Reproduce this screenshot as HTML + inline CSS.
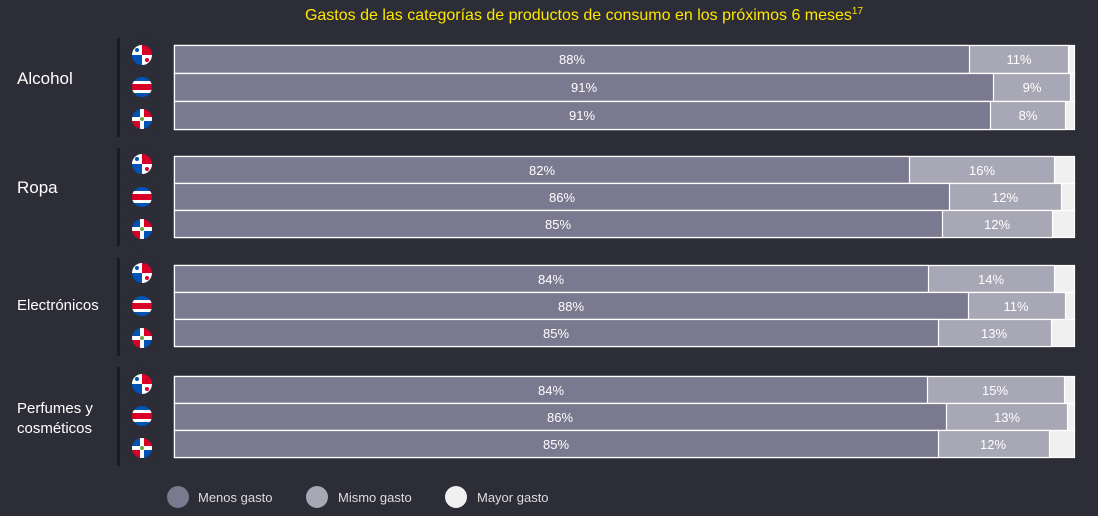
<!DOCTYPE html>
<html><head><meta charset="utf-8"><style>
body{margin:0;background:#2d2d37;}
svg{display:block;font-family:"Liberation Sans",sans-serif;}
</style></head><body>
<svg width="1098" height="516" viewBox="0 0 1098 516">
<rect width="1098" height="516" fill="#2d2d37"/>
<text x="584" y="20" text-anchor="middle" fill="#ffe600" font-size="16">Gastos de las categorías de productos de consumo en los próximos 6 meses<tspan font-size="10" dy="-6">17</tspan></text>
<g fill="#1b1b22">
<rect x="117" y="38" width="3" height="99"/>
<rect x="117" y="148" width="3" height="98"/>
<rect x="117" y="258" width="3" height="98"/>
<rect x="117" y="367" width="3" height="99"/>
</g>
<g fill="#ffffff" font-size="17">
<text x="17" y="84">Alcohol</text>
<text x="17" y="193">Ropa</text>
<text x="17" y="310" font-size="15">Electrónicos</text>
<text x="17" y="413" font-size="15">Perfumes y</text>
<text x="17" y="433" font-size="15">cosméticos</text>
</g>
<defs>
<g id="pa"><rect x="-10" y="-10" width="20" height="20" fill="#fff"/><rect x="0" y="-10" width="10" height="10" fill="#d80027"/><rect x="-10" y="0" width="10" height="10" fill="#0052b4"/><circle cx="-5" cy="-5" r="2" fill="#0052b4"/><circle cx="5" cy="5" r="2" fill="#d80027"/><circle r="14" fill="none" stroke="#2d2d37" stroke-width="8"/></g>
<g id="cr"><rect x="-10" y="-10" width="20" height="20" fill="#0052b4"/><rect x="-10" y="-6" width="20" height="12" fill="#fff"/><rect x="-10" y="-3" width="20" height="6" fill="#d80027"/><circle r="14" fill="none" stroke="#2d2d37" stroke-width="8"/></g>
<g id="do"><rect x="-10" y="-10" width="20" height="20" fill="#fff"/><rect x="-10" y="-10" width="8" height="8" fill="#0052b4"/><rect x="2" y="2" width="8" height="8" fill="#0052b4"/><rect x="2" y="-10" width="8" height="8" fill="#d80027"/><rect x="-10" y="2" width="8" height="8" fill="#d80027"/><circle r="2" fill="#6da544"/><circle r="14" fill="none" stroke="#2d2d37" stroke-width="8"/></g>
</defs>
<g stroke="#fff" stroke-width="1.2">
<rect x="174.5" y="45.5" width="900" height="28" fill="#f0f0f0"/>
<rect x="174.5" y="45.5" width="894" height="28" fill="#a8a7b6"/>
<rect x="174.5" y="45.5" width="795" height="28" fill="#7a7990"/>
<rect x="174.5" y="73.5" width="900" height="28" fill="#f0f0f0"/>
<rect x="174.5" y="73.5" width="896" height="28" fill="#a8a7b6"/>
<rect x="174.5" y="73.5" width="819" height="28" fill="#7a7990"/>
<rect x="174.5" y="101.5" width="900" height="28" fill="#f0f0f0"/>
<rect x="174.5" y="101.5" width="891" height="28" fill="#a8a7b6"/>
<rect x="174.5" y="101.5" width="816" height="28" fill="#7a7990"/>
<rect x="174.5" y="156.5" width="900" height="27" fill="#f0f0f0"/>
<rect x="174.5" y="156.5" width="880" height="27" fill="#a8a7b6"/>
<rect x="174.5" y="156.5" width="735" height="27" fill="#7a7990"/>
<rect x="174.5" y="183.5" width="900" height="27" fill="#f0f0f0"/>
<rect x="174.5" y="183.5" width="887" height="27" fill="#a8a7b6"/>
<rect x="174.5" y="183.5" width="775" height="27" fill="#7a7990"/>
<rect x="174.5" y="210.5" width="900" height="27" fill="#f0f0f0"/>
<rect x="174.5" y="210.5" width="878" height="27" fill="#a8a7b6"/>
<rect x="174.5" y="210.5" width="768" height="27" fill="#7a7990"/>
<rect x="174.5" y="265.5" width="900" height="27" fill="#f0f0f0"/>
<rect x="174.5" y="265.5" width="880" height="27" fill="#a8a7b6"/>
<rect x="174.5" y="265.5" width="754" height="27" fill="#7a7990"/>
<rect x="174.5" y="292.5" width="900" height="27" fill="#f0f0f0"/>
<rect x="174.5" y="292.5" width="891" height="27" fill="#a8a7b6"/>
<rect x="174.5" y="292.5" width="794" height="27" fill="#7a7990"/>
<rect x="174.5" y="319.5" width="900" height="27" fill="#f0f0f0"/>
<rect x="174.5" y="319.5" width="877" height="27" fill="#a8a7b6"/>
<rect x="174.5" y="319.5" width="764" height="27" fill="#7a7990"/>
<rect x="174.5" y="376.5" width="900" height="27" fill="#f0f0f0"/>
<rect x="174.5" y="376.5" width="890" height="27" fill="#a8a7b6"/>
<rect x="174.5" y="376.5" width="753" height="27" fill="#7a7990"/>
<rect x="174.5" y="403.5" width="900" height="27" fill="#f0f0f0"/>
<rect x="174.5" y="403.5" width="893" height="27" fill="#a8a7b6"/>
<rect x="174.5" y="403.5" width="772" height="27" fill="#7a7990"/>
<rect x="174.5" y="430.5" width="900" height="27" fill="#f0f0f0"/>
<rect x="174.5" y="430.5" width="875" height="27" fill="#a8a7b6"/>
<rect x="174.5" y="430.5" width="764" height="27" fill="#7a7990"/>
</g>
<g fill="#fff" font-size="13" text-anchor="middle">
<text x="572" y="64">88%</text><text x="1019" y="64">11%</text>
<text x="584" y="92">91%</text><text x="1032" y="92">9%</text>
<text x="582" y="120">91%</text><text x="1028" y="120">8%</text>
<text x="542" y="175">82%</text><text x="982" y="175">16%</text>
<text x="562" y="202">86%</text><text x="1005" y="202">12%</text>
<text x="558" y="229">85%</text><text x="997" y="229">12%</text>
<text x="551" y="284">84%</text><text x="991" y="284">14%</text>
<text x="571" y="311">88%</text><text x="1016" y="311">11%</text>
<text x="556" y="338">85%</text><text x="994" y="338">13%</text>
<text x="551" y="395">84%</text><text x="995" y="395">15%</text>
<text x="560" y="422">86%</text><text x="1007" y="422">13%</text>
<text x="556" y="449">85%</text><text x="993" y="449">12%</text>
</g>
<use href="#pa" x="142" y="55"/><use href="#cr" x="142" y="87"/><use href="#do" x="142" y="119"/>
<use href="#pa" x="142" y="164"/><use href="#cr" x="142" y="197"/><use href="#do" x="142" y="229"/>
<use href="#pa" x="142" y="273"/><use href="#cr" x="142" y="306"/><use href="#do" x="142" y="338"/>
<use href="#pa" x="142" y="384"/><use href="#cr" x="142" y="416"/><use href="#do" x="142" y="448"/>
<circle cx="178" cy="497" r="11" fill="#7a7990"/>
<circle cx="317" cy="497" r="11" fill="#a8a7b6"/>
<circle cx="456" cy="497" r="11" fill="#f0f0f0"/>
<g fill="#ddd" font-size="13">
<text x="198" y="502">Menos gasto</text>
<text x="338" y="502">Mismo gasto</text>
<text x="477" y="502">Mayor gasto</text>
</g>
</svg>
</body></html>
